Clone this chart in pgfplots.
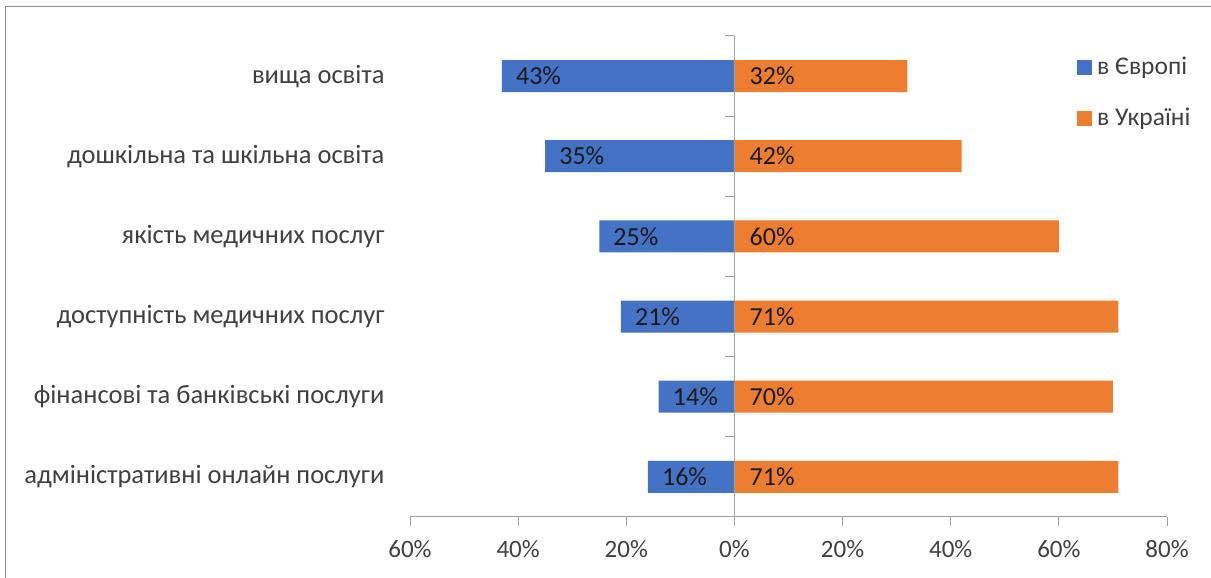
\documentclass[border=0pt]{standalone}
\usepackage{pgfplots}
\pgfplotsset{compat=1.18}
\usepackage{pgfplotstable}
\usepackage{fontspec}
\setmainfont{Carlito}
\definecolor{euBlue}{HTML}{4472C4}
\definecolor{uaOrange}{HTML}{ED7D31}
\definecolor{axGray}{HTML}{A0A0A0}
\definecolor{txtGray}{HTML}{404040}
\definecolor{frameGray}{HTML}{8C8C8C}

\pgfplotstableread{
y eu ua
6 43 32
5 35 42
4 25 60
3 21 71
2 14 70
1 16 71
}\data

\begin{document}
\fontsize{25bp}{30bp}\selectfont
\begin{tikzpicture}[x=1bp,y=1bp]
\useasboundingbox (0,0) rectangle (1211,578);
\draw[frameGray, line width=1bp] (5,-10) -- (5,571) -- (1230,571);
\begin{axis}[
  at={(410bp,61bp)}, anchor=south west,
  scale only axis, width=757bp, height=481bp,
  xmin=-60, xmax=80, ymin=0.5, ymax=6.5,
  axis x line*=bottom, axis y line*=left,
  x axis line style={axGray, line width=1bp},
  y axis line style={draw=none},
  xtick={-60,-40,...,80},
  xticklabel={\pgfmathparse{abs(\tick)}\pgfmathprintnumber{\pgfmathresult}\%},
  /pgf/number format/assume math mode=true,
  x tick style={axGray, line width=1bp},
  tick align=outside, major tick length=9bp,
  ytick={1,...,6},
  y tick style={draw=none},
  yticklabels={адміністративні онлайн послуги, фінансові та банківські послуги, доступність медичних послуг, якість медичних послуг, дошкільна та шкільна освіта, вища освіта},
  tick label style={text=txtGray, font=\fontsize{25bp}{30bp}\selectfont},
  yticklabel style={xshift=-8bp, font=\fontsize{26.5bp}{30bp}\selectfont},
  xticklabel style={yshift=-6bp},
  clip=false,
  legend style={draw=none, fill=none, at={(0.877,0.8815)}, anchor=west,
    row sep=25bp, font=\fontsize{25.5bp}{30bp}\selectfont, text=txtGray,
    /tikz/every odd column/.append style={column sep=3bp}},
  legend cell align=left,
  legend image code/.code={\fill[#1] (0bp,-7.5bp) rectangle (15bp,7.5bp);},
]
\addplot[xbar, bar width=32bp, bar shift=0pt, fill=euBlue, draw=none]
  table[x expr=-\thisrow{eu}, y=y] {\data};
\addlegendentry{в Європі}
\addplot[xbar, bar width=32bp, bar shift=0pt, fill=uaOrange, draw=none]
  table[x=ua, y=y] {\data};
\addlegendentry{в Україні}
% zero line with category ticks
\draw[axGray, line width=1bp] (axis cs:0,0.5) -- (axis cs:0,6.5);
\pgfplotsinvokeforeach{1.5,2.5,3.5,4.5,5.5,6.5}{
  \draw[axGray, line width=1bp] (axis cs:0,#1) -- ([xshift=-9bp]axis cs:0,#1);
}
% labels
\addplot[draw=none, mark=none, forget plot,
  nodes near coords={\pgfmathprintnumber{\pgfplotspointmeta}\%},
  point meta=explicit,
  nodes near coords style={anchor=west, inner sep=0pt, xshift=14bp, text=black!90,
    font=\fontsize{26bp}{30bp}\selectfont}]
  table[x expr=-\thisrow{eu}, y=y, meta=eu] {\data};
\addplot[draw=none, mark=none, forget plot,
  nodes near coords={\pgfmathprintnumber{\pgfplotspointmeta}\%},
  point meta=explicit,
  nodes near coords style={anchor=west, inner sep=0pt, xshift=15bp, text=black!90,
    font=\fontsize{26bp}{30bp}\selectfont}]
  table[x expr=0, y=y, meta=ua] {\data};
\end{axis}
\end{tikzpicture}
\end{document}
